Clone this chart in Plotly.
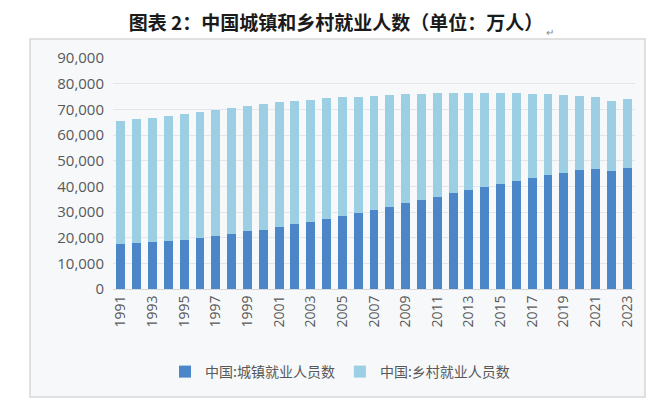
import plotly.graph_objects as go

years = [str(y) for y in range(1991, 2024)]
urban = [17465, 17861, 18262, 18653, 19040, 19922, 20781, 21616, 22412, 23151,
         24123, 25159, 26230, 27293, 28389, 29630, 30953, 32103, 33322, 34687,
         36003, 37287, 38527, 39703, 40916, 42051, 43208, 44292, 45249, 46271,
         46773, 45931, 47032]
rural = [48026, 48291, 48546, 48802, 49025, 49028, 49039, 49021, 48982, 48934,
         48674, 48121, 47506, 46971, 46258, 45348, 44368, 43461, 42506, 41418,
         40193, 38967, 37774, 36646, 35404, 34194, 32850, 31490, 30198, 28793,
         27879, 27420, 27009]
series_names = ["中国:城镇就业人员数", "中国:乡村就业人员数"]
title_text = "图表 2：中国城镇和乡村就业人数（单位：万人）"
y_ticks = list(range(0, 90001, 10000))

OFF = 8  # default page body margin
W, H = 660 - OFF, 409 - OFF
L, R, T, B = 113 - OFF, 33 - OFF, 58 - OFF, 120
pw, ph = W - L - R, H - T - B

def px2x(px):
    return (px - OFF - L) / pw

def px2y(py):
    return (H - B - (py - OFF)) / ph

fig = go.Figure()
fig.add_trace(go.Bar(x=years, y=urban, name=series_names[0],
                     marker=dict(color="#4a86c8", line=dict(width=0))))
fig.add_trace(go.Bar(x=years, y=rural, name=series_names[1],
                     marker=dict(color="#9ccfe4", line=dict(width=0))))

fig.update_layout(
    width=W, height=H,
    margin=dict(l=L, r=R, t=T, b=B),
    barmode="stack", bargap=0.44,
    paper_bgcolor="white", plot_bgcolor="rgba(0,0,0,0)",
    font=dict(family="Noto Sans CJK SC, Open Sans, sans-serif", color="#595959"),
    showlegend=True,
    legend=dict(orientation="h", x=px2x(340), xanchor="center", y=px2y(372), yanchor="middle",
                traceorder="normal",
                font=dict(size=14, color="#595959"), bgcolor="rgba(0,0,0,0)"),
    title=dict(text="<b>" + title_text + "</b>", x=(336 - OFF) / W, xanchor="center",
               y=1 - (23 - OFF) / H, yanchor="middle",
               font=dict(size=19, color="#1a1a1a", family="Noto Sans CJK SC, sans-serif")),
    xaxis=dict(type="category", tickangle=-90, tickfont=dict(size=14, color="#595959",
               family="Open Sans, sans-serif"),
               tickmode="array", tickvals=years[::2], ticktext=years[::2],
               showline=True, linecolor="#d9d9d9", linewidth=1, ticks="",
               showgrid=False, range=[-0.5, len(years) - 0.5]),
    yaxis=dict(range=[0, 90000], tickvals=y_ticks, tickformat=",", showgrid=True,
               gridcolor="#e3e6ea", gridwidth=1, zeroline=False, showline=False,
               tickfont=dict(size=15, color="#595959", family="Open Sans, sans-serif"),
               ticklabelstandoff=8),
    shapes=[dict(type="rect", xref="paper", yref="paper", layer="below",
                 x0=px2x(30), x1=px2x(645), y0=px2y(397), y1=px2y(39),
                 fillcolor="#f6f8fa", line=dict(color="#d6d6d6", width=1.5))],
    annotations=[dict(text="↵", xref="paper", yref="paper", x=px2x(556), y=px2y(22),
                      showarrow=False, font=dict(size=10, color="#888888"))],
)

fig.write_html("out.html")
